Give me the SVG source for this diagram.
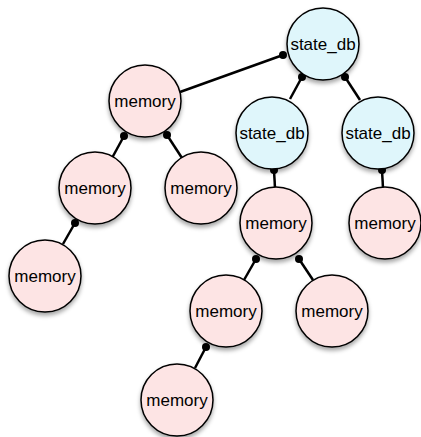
<svg xmlns="http://www.w3.org/2000/svg" width="421" height="437" viewBox="0 0 421 437">
<style>
.n circle{stroke:#000;stroke-width:1.5;filter:url(#sh)}
.mem circle{fill:#fde4e4}
.db circle{fill:#dff6fb}
.n text{font-family:"Liberation Sans",Arial,sans-serif;font-size:17px;fill:#000;text-anchor:middle}
#edges line{stroke:#000;stroke-width:2.5}
#edges circle{fill:#000}
</style>
<defs>
<filter id="sh" x="-30%" y="-30%" width="160%" height="170%">
<feDropShadow dx="0" dy="3" stdDeviation="2" flood-color="#000" flood-opacity="0.35"/>
</filter>
</defs>
<rect width="421" height="437" fill="#fff"/>
<g id="edges">
<line x1="283" y1="55" x2="180" y2="92"/><circle cx="283" cy="55" r="4"/>
<line x1="302" y1="77" x2="290" y2="99"/><circle cx="302" cy="77" r="4"/>
<line x1="345" y1="77" x2="360" y2="100"/><circle cx="345" cy="77" r="4"/>
<line x1="274" y1="170" x2="275" y2="188"/><circle cx="274" cy="170" r="4"/>
<line x1="382" y1="170" x2="383" y2="188"/><circle cx="382" cy="170" r="4"/>
<line x1="124" y1="136" x2="112" y2="158"/><circle cx="124" cy="136" r="4"/>
<line x1="167" y1="135" x2="182" y2="158"/><circle cx="167" cy="135" r="4"/>
<line x1="75" y1="223" x2="63" y2="244"/><circle cx="75" cy="223" r="4"/>
<line x1="256" y1="259" x2="244" y2="280"/><circle cx="256" cy="259" r="4"/>
<line x1="299" y1="259" x2="313" y2="280"/><circle cx="299" cy="259" r="4"/>
<line x1="206" y1="347" x2="195" y2="368"/><circle cx="206" cy="347" r="4"/>
</g>
<g id="n1" class="n db"><circle cx="323" cy="44" r="36"/><text x="323" y="50">state_db</text></g>
<g id="n2" class="n db"><circle cx="272" cy="133" r="36"/><text x="272" y="139">state_db</text></g>
<g id="n3" class="n db"><circle cx="378" cy="133" r="36"/><text x="378" y="139">state_db</text></g>
<g id="n4" class="n mem"><circle cx="145" cy="101" r="36"/><text x="145" y="107">memory</text></g>
<g id="n5" class="n mem"><circle cx="95" cy="188" r="36"/><text x="95" y="194">memory</text></g>
<g id="n6" class="n mem"><circle cx="201" cy="188" r="36"/><text x="201" y="194">memory</text></g>
<g id="n7" class="n mem"><circle cx="45" cy="276" r="36"/><text x="45" y="282">memory</text></g>
<g id="n8" class="n mem"><circle cx="276" cy="223" r="36"/><text x="276" y="229">memory</text></g>
<g id="n9" class="n mem"><circle cx="385" cy="223" r="36"/><text x="385" y="229">memory</text></g>
<g id="n10" class="n mem"><circle cx="226" cy="311" r="36"/><text x="226" y="317">memory</text></g>
<g id="n11" class="n mem"><circle cx="332" cy="311" r="36"/><text x="332" y="317">memory</text></g>
<g id="n12" class="n mem"><circle cx="177" cy="400" r="36"/><text x="177" y="406">memory</text></g>
</svg>
